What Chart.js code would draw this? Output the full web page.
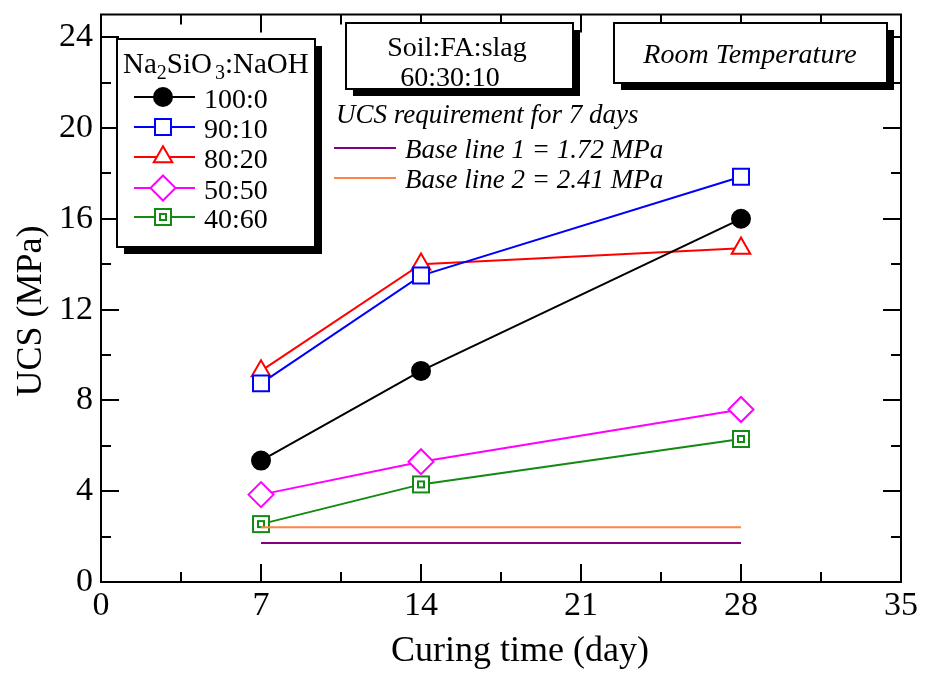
<!DOCTYPE html>
<html>
<head>
<meta charset="utf-8">
<script src="https://cdn.jsdelivr.net/npm/chart.js@4.4.0/dist/chart.umd.min.js"></script>
<style>
  html, body { margin: 0; padding: 0; background: #fff; }
  #wrap { width: 925px; height: 677px; }
</style>
</head>
<body>
<div id="wrap"><canvas id="ucsChart" width="925" height="677"></canvas></div>
<script>
// curing time (days) and UCS (MPa) for each Na2SiO3:NaOH ratio
const days = [7, 14, 28];
const ratioLabels = ['100:0', '90:10', '80:20', '50:50', '40:60'];
const ucs100_0 = [5.35, 9.3, 16.0];
const ucs90_10 = [8.75, 13.5, 17.85];
const ucs80_20 = [9.3, 14.0, 14.7];
const ucs50_50 = [3.85, 5.3, 7.6];
const ucs40_60 = [2.55, 4.3, 6.3];

// 7-day UCS requirement lines
const baseLineDays = [7, 28];
const baseLine1 = 1.72;
const baseLine2 = 2.41;

const xTicks = [0, 7, 14, 21, 28, 35];
const yTicks = [0, 4, 8, 12, 16, 20, 24];

const serif = "'Liberation Serif', 'Times New Roman', serif";

// square-in-square marker for the 40:60 mix
function boxedSquare(color) {
  const c = document.createElement('canvas');
  c.width = 20; c.height = 20;
  const g = c.getContext('2d');
  g.strokeStyle = color;
  g.lineWidth = 2;
  g.fillStyle = '#fff';
  g.fillRect(2, 2, 16, 16);
  g.strokeRect(2, 2, 16, 16);
  g.lineWidth = 2;
  g.strokeRect(7, 7, 6, 6);
  return c;
}

const greenMark = boxedSquare('#138a13');

const pts = (ys) => days.map((d, i) => ({ x: d, y: ys[i] }));
const flat = (v) => baseLineDays.map(d => ({ x: d, y: v }));

const series = [
  { label: ratioLabels[0], data: pts(ucs100_0), color: '#000000', style: 'circle', radius: 9, fill: '#000000' },
  { label: ratioLabels[1], data: pts(ucs90_10), color: '#0000ff', style: 'rect', radius: 11.3, fill: '#ffffff' },
  { label: ratioLabels[2], data: pts(ucs80_20), color: '#ff0000', style: 'triangle', radius: 10.7, fill: '#ffffff' },
  { label: ratioLabels[3], data: pts(ucs50_50), color: '#ff00ff', style: 'rectRot', radius: 12.5, fill: '#ffffff' },
  { label: ratioLabels[4], data: pts(ucs40_60), color: '#138a13', style: greenMark, radius: 10, fill: '#ffffff' }
];

const datasets = [
  { label: 'Base line 2', data: flat(baseLine2), borderColor: '#ff8444', borderWidth: 2, pointRadius: 0 },
  { label: 'Base line 1', data: flat(baseLine1), borderColor: '#800080', borderWidth: 2, pointRadius: 0 }
].concat(series.map(s => ({
  label: s.label,
  data: s.data,
  borderColor: s.color,
  borderWidth: 2,
  pointStyle: s.style,
  pointRadius: s.radius,
  pointBorderColor: s.color,
  pointBackgroundColor: s.fill,
  pointBorderWidth: 2
})));

// marker drawing for the hand-made legend
function legendMarker(ctx, s, x, y) {
  ctx.save();
  ctx.strokeStyle = s.color;
  ctx.fillStyle = s.fill;
  ctx.lineWidth = 2;
  const r = s.radius;
  ctx.beginPath();
  if (s.style === 'circle') {
    ctx.arc(x, y, r, 0, Math.PI * 2);
  } else if (s.style === 'rect') {
    const h = r * Math.SQRT1_2;
    ctx.rect(x - h, y - h, 2 * h, 2 * h);
  } else if (s.style === 'triangle') {
    ctx.moveTo(x, y - r);
    ctx.lineTo(x + r * 0.866, y + r / 2);
    ctx.lineTo(x - r * 0.866, y + r / 2);
    ctx.closePath();
  } else if (s.style === 'rectRot') {
    ctx.moveTo(x, y - r);
    ctx.lineTo(x + r, y);
    ctx.lineTo(x, y + r);
    ctx.lineTo(x - r, y);
    ctx.closePath();
  } else {
    ctx.drawImage(s.style, x - 10, y - 10);
    ctx.restore();
    return;
  }
  ctx.fill();
  ctx.stroke();
  ctx.restore();
}

function shadowBox(ctx, x, y, w, h) {
  ctx.fillStyle = '#000';
  ctx.fillRect(x + 7, y + 7, w, h);
  ctx.fillStyle = '#fff';
  ctx.fillRect(x, y, w, h);
  ctx.strokeStyle = '#000';
  ctx.lineWidth = 2;
  ctx.strokeRect(x, y, w, h);
}

// frame, inward ticks and axis titles
const framePlugin = {
  id: 'frame',
  beforeDatasetsDraw(chart) {
    const { ctx, chartArea: a, scales: { x, y } } = chart;
    ctx.save();
    ctx.strokeStyle = '#000';
    ctx.lineWidth = 2;
    ctx.strokeRect(a.left, a.top, a.right - a.left, a.bottom - a.top);
    ctx.beginPath();
    for (let v = 3.5; v < 35; v += 3.5) {
      const px = Math.round(x.getPixelForValue(v));
      const len = (v % 7 === 0) ? 18 : 10;
      ctx.moveTo(px, a.bottom); ctx.lineTo(px, a.bottom - len);
      ctx.moveTo(px, a.top); ctx.lineTo(px, a.top + len);
    }
    for (let v = 2; v < 25; v += 2) {
      const py = Math.round(y.getPixelForValue(v));
      const len = (v % 4 === 0) ? 18 : 10;
      ctx.moveTo(a.left, py); ctx.lineTo(a.left + len, py);
      ctx.moveTo(a.right, py); ctx.lineTo(a.right - len, py);
    }
    ctx.stroke();

    ctx.fillStyle = '#000';
    ctx.font = '36px ' + serif;
    ctx.textAlign = 'center';
    ctx.textBaseline = 'alphabetic';
    ctx.fillText('Curing time (day)', 520, 661);
    ctx.save();
    ctx.translate(41, 311);
    ctx.rotate(-Math.PI / 2);
    ctx.fillText('UCS (MPa)', 0, 0);
    ctx.restore();
    ctx.restore();
  },
  afterDatasetsDraw(chart) {
    const { ctx } = chart;
    ctx.save();
    ctx.fillStyle = '#000';

    // legend
    shadowBox(ctx, 117, 39, 198, 208);
    ctx.fillStyle = '#000';
    ctx.textAlign = 'left';
    ctx.textBaseline = 'alphabetic';
    let tx = 123;
    const part = (t, size, dy) => {
      ctx.font = size + 'px ' + serif;
      ctx.fillText(t, tx, 73 + dy);
      tx += ctx.measureText(t).width;
    };
    part('Na', 29, 0);
    part('2', 20, 6);
    part('SiO', 29, 0);
    tx += 3;
    part('3', 20, 6);
    part(':NaOH', 29, 0);

    const rowY = [97, 127, 157, 188, 217];
    series.forEach((s, i) => {
      ctx.strokeStyle = s.color;
      ctx.lineWidth = 2;
      ctx.beginPath();
      ctx.moveTo(134, rowY[i]);
      ctx.lineTo(195, rowY[i]);
      ctx.stroke();
      legendMarker(ctx, s, 163, rowY[i]);
      ctx.fillStyle = '#000';
      ctx.font = '28px ' + serif;
      ctx.fillText(s.label, 204, rowY[i] + 11);
    });

    // mix proportion and curing condition
    shadowBox(ctx, 346, 23, 227, 66);
    shadowBox(ctx, 614, 23, 273, 60);
    ctx.fillStyle = '#000';
    ctx.textAlign = 'center';
    ctx.font = '28px ' + serif;
    ctx.fillText('Soil:FA:slag', 457, 56);
    ctx.fillText('60:30:10', 450, 86);
    ctx.font = 'italic 28px ' + serif;
    ctx.fillText('Room Temperature', 750, 63);

    // requirement notes
    ctx.textAlign = 'left';
    ctx.font = 'italic 27px ' + serif;
    ctx.fillText('UCS requirement for 7 days', 336, 123);
    ctx.fillText('Base line 1 = 1.72 MPa', 405, 158);
    ctx.fillText('Base line 2 = 2.41 MPa', 405, 188);
    ctx.lineWidth = 2;
    ctx.strokeStyle = '#800080';
    ctx.beginPath(); ctx.moveTo(334, 148); ctx.lineTo(396, 148); ctx.stroke();
    ctx.strokeStyle = '#ff8444';
    ctx.beginPath(); ctx.moveTo(334, 178); ctx.lineTo(396, 178); ctx.stroke();
    ctx.restore();
  }
};

new Chart(document.getElementById('ucsChart'), {
  type: 'line',
  data: { datasets: datasets },
  options: {
    responsive: false,
    animation: false,
    events: [],
    layout: { padding: { top: 11, right: 24, left: 0, bottom: 0 } },
    plugins: { legend: { display: false }, tooltip: { enabled: false } },
    scales: {
      x: {
        type: 'linear',
        min: 0,
        max: 35,
        grid: { display: false, drawTicks: false },
        border: { display: false },
        afterBuildTicks: (s) => { s.ticks = xTicks.map(v => ({ value: v })); },
        afterFit: (s) => { s.height = 95; s.paddingLeft = 0; s.paddingRight = 0; },
        ticks: { color: '#000', padding: 4, maxRotation: 0, font: { family: serif, size: 34 } }
      },
      y: {
        min: 0,
        max: 25,
        grid: { display: false, drawTicks: false },
        border: { display: false },
        afterBuildTicks: (s) => { s.ticks = yTicks.map(v => ({ value: v })); },
        afterFit: (s) => { s.width = 101; s.paddingTop = 0; s.paddingBottom = 0; },
        ticks: { color: '#000', padding: 8, font: { family: serif, size: 34, lineHeight: 0.5 } }
      }
    }
  },
  plugins: [framePlugin]
});
</script>
</body>
</html>
